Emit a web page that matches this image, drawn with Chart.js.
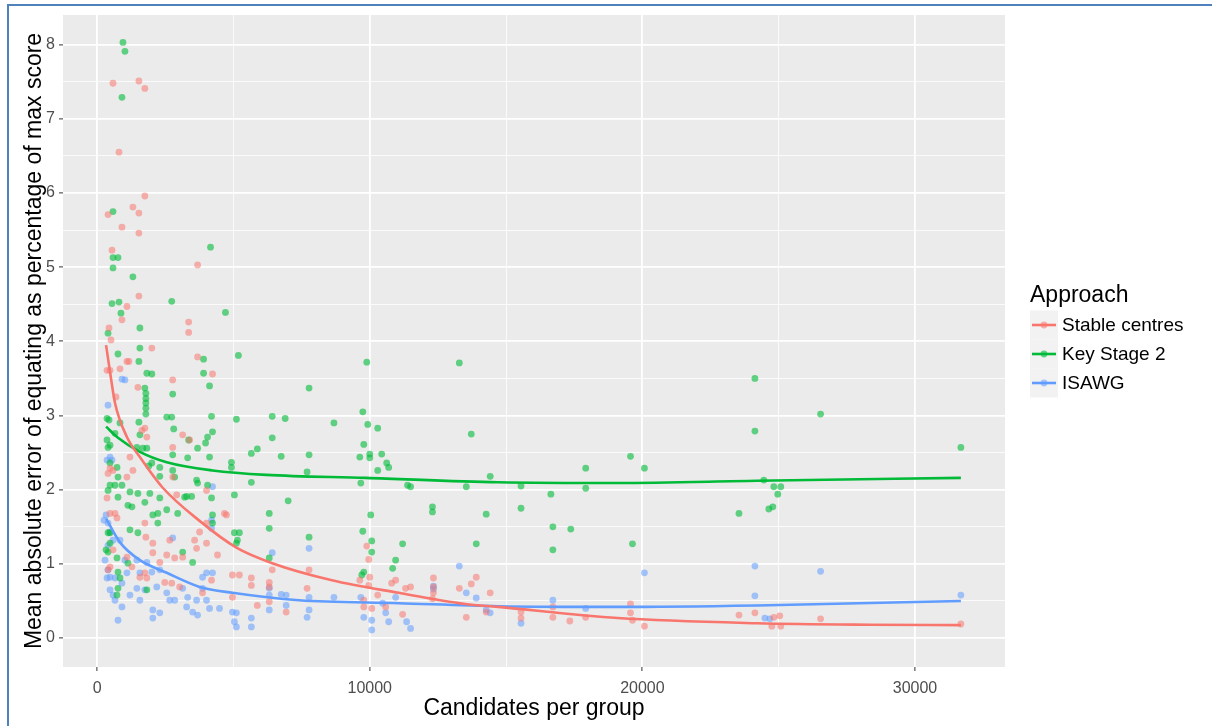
<!DOCTYPE html>
<html>
<head>
<meta charset="utf-8">
<title>Mean absolute error of equating</title>
<script src="https://cdn.jsdelivr.net/npm/chart.js@4.4.1/dist/chart.umd.min.js"></script>
<style>
    html, body { margin: 0; padding: 0; background: #ffffff; }
    #wrap { position: relative; width: 1212px; height: 726px; overflow: hidden; }
    #frame {
        position: absolute; left: 7px; top: 4px; right: -10px; bottom: -10px;
        border-top: 2px solid #4f81bd; border-left: 2px solid #4f81bd;
    }
    #box { position: absolute; left: 0; top: 0; width: 1212px; height: 726px; }
</style>
</head>
<body>
<div id="wrap">
    <div id="frame"></div>
    <div id="box"><canvas id="errorChart"></canvas></div>
</div>
<script>
// ---- data ----
const seriesNames = ["Stable centres", "Key Stage 2", "ISAWG"];
const legendTitle = "Approach";
const xTitle = "Candidates per group";
const yTitle = "Mean absolute error of equating as percentage of max score";

const stableX = [584, 1533, 1752, 803, 1752, 402, 1314, 1533, 913, 1533, 548, 3687, 1533, 1095, 913, 438, 511, 3358, 3358, 2008,
    3687, 1095, 1168, 4234, 475, 840, 2774, 1497, 694, 1752, 1825, 1643, 2774, 3139, 3395, 1205, 1314, 584, 1095, 2774,
    2920, 4015, 365, 475, 402, 365, 475, 657, 730, 584, 475, 402, 1095, 1278, 1570, 1752, 1825, 1752, 1789, 2044,
    2044, 2555, 2847, 3139, 2300, 2482, 2738, 3030, 3577, 3650, 3760, 4015, 4015, 4417, 4745, 4964, 5220, 5658, 4964, 3869,
    4198, 2665, 6424, 7775, 7702, 6935, 5877, 4672, 6315, 9892, 9965, 5658, 6315, 6315, 9636, 10001, 9965, 10293, 10950, 10804,
    11315, 11498, 9782, 9782, 10074, 10585, 11206, 12337, 12337, 12337, 12301, 13286, 13907, 13724, 13542, 14418, 14272, 16717, 16717, 17338,
    17922, 15549, 15549, 19564, 19564, 19637, 20075, 23543, 24127, 24820, 25039, 24747, 25076, 26536, 31682];
const stableY = [7.48, 7.51, 7.41, 6.55, 5.96, 5.71, 5.81, 5.73, 5.54, 5.46, 5.23, 5.03, 4.61, 4.47, 4.29, 4.18, 4.02, 4.26, 4.12, 3.91,
    3.79, 3.73, 3.73, 3.56, 3.61, 3.63, 3.48, 3.38, 3.25, 2.83, 2.71, 2.80, 2.57, 2.74, 2.67, 2.44, 2.26, 2.26, 2.17, 2.17,
    1.93, 1.99, 3.61, 2.29, 2.22, 1.89, 1.68, 1.68, 1.62, 1.19, 0.96, 0.92, 1.09, 0.96, 0.82, 0.88, 0.81, 1.55, 1.36, 1.28,
    1.15, 1.12, 1.08, 1.09, 1.02, 0.75, 0.74, 0.69, 1.32, 1.21, 1.43, 1.55, 1.28, 1.12, 1.66, 0.85, 0.85, 0.81, 0.55, 0.61,
    0.78, 1.32, 0.92, 0.92, 0.67, 0.35, 0.44, 1.68, 0.75, 1.24, 1.06, 0.71, 0.69, 0.49, 0.78, 0.82, 0.71, 0.58, 0.78, 0.74,
    0.67, 0.69, 0.51, 0.42, 0.40, 0.42, 0.32, 0.81, 0.69, 0.61, 0.53, 0.67, 0.82, 0.73, 0.28, 0.61, 0.35, 0.42, 0.28, 0.23,
    0.28, 0.35, 0.27, 0.46, 0.34, 0.24, 0.16, 0.31, 0.34, 0.28, 0.30, 0.16, 0.16, 0.26, 0.19];

const keyStageX = [949, 1022, 913, 584, 584, 767, 584, 1314, 548, 803, 876, 2738, 4161, 4709, 402, 1570, 1570, 767, 5183, 1533,
    1825, 2008, 3906, 3906, 4125, 1752, 1789, 1789, 1789, 1789, 1789, 2774, 2555, 2738, 4198, 5110, 1533, 840, 438, 2811,
    4234, 4052, 3979, 3358, 1570, 657, 475, 1460, 1679, 1825, 3687, 2774, 3322, 4125, 5658, 5877, 4928, 4928, 475, 730,
    767, 2008, 1898, 2300, 2300, 2774, 2847, 3650, 3687, 4052, 475, 657, 913, 1205, 1497, 1935, 3285, 3468, 5658, 5037,
    365, 365, 402, 329, 402, 402, 767, 1132, 1278, 1752, 2044, 2227, 2300, 2555, 2957, 3212, 4198, 4234, 4234, 5220,
    5037, 5110, 475, 475, 402, 730, 767, 840, 767, 730, 1205, 1132, 3139, 3504, 2227, 1825, 1497, 6424, 6899, 6424,
    6753, 7775, 7775, 8687, 7008, 6315, 6315, 7775, 5147, 9892, 13286, 9746, 9928, 10293, 13724, 9782, 9636, 10001, 10001, 10439,
    10622, 10695, 10293, 7702, 9673, 11388, 11498, 14418, 13542, 12301, 12301, 14272, 10038, 9746, 10074, 11206, 13907, 10074, 10950, 10841,
    9782, 9709, 6315, 24127, 24127, 19564, 20075, 17922, 15549, 17922, 16644, 15549, 16717, 17374, 16717, 19637, 23543, 26536, 31682, 24455,
    24820, 25076, 24966, 24638, 24784];
const keyStageY = [8.03, 7.91, 7.29, 5.75, 5.13, 5.13, 4.99, 4.87, 4.51, 4.53, 4.38, 4.54, 5.27, 4.39, 4.11, 4.18, 3.91, 3.83, 3.81, 3.73,
    3.57, 3.56, 3.76, 3.57, 3.40, 3.37, 3.30, 3.23, 3.17, 3.10, 3.02, 3.29, 2.98, 2.98, 2.99, 2.95, 2.91, 2.90, 2.94, 2.82,
    2.78, 2.71, 2.63, 2.67, 2.74, 2.76, 2.60, 2.57, 2.56, 2.56, 2.56, 2.47, 2.43, 2.44, 2.49, 2.55, 2.37, 2.30, 2.36, 2.30,
    2.17, 2.36, 2.32, 2.30, 2.18, 2.26, 2.17, 2.13, 2.09, 2.06, 2.06, 2.06, 2.06, 1.97, 1.95, 1.95, 1.91, 1.91, 2.10, 1.93,
    2.96, 2.67, 2.57, 1.19, 1.42, 1.99, 1.90, 1.79, 1.77, 1.83, 1.66, 1.68, 1.89, 1.73, 1.68, 1.90, 1.89, 1.66, 1.55, 1.42,
    1.42, 1.28, 1.42, 1.28, 1.16, 1.08, 0.89, 0.81, 0.67, 0.58, 1.46, 1.01, 1.16, 1.02, 1.55, 0.65, 1.42, 2.99, 2.96, 2.70,
    2.45, 3.37, 2.47, 2.90, 1.85, 1.68, 1.48, 1.36, 1.32, 3.72, 3.71, 3.05, 2.88, 2.83, 2.75, 2.61, 2.44, 2.48, 2.43, 2.48,
    2.36, 2.30, 2.26, 2.24, 2.09, 2.06, 2.04, 2.18, 2.04, 1.77, 1.70, 1.67, 1.66, 1.44, 1.31, 1.27, 1.27, 1.16, 1.05, 0.94,
    0.89, 0.85, 1.08, 3.50, 2.79, 2.45, 2.29, 2.29, 2.05, 2.02, 1.94, 1.75, 1.50, 1.47, 1.19, 1.27, 1.68, 3.02, 2.57, 2.13,
    2.04, 2.04, 1.94, 1.74, 1.77];

const isawgX = [913, 1022, 475, 548, 4234, 402, 365, 475, 584, 402, 475, 584, 402, 365, 657, 1095, 913, 913, 767, 1460,
    1570, 1460, 1825, 2008, 2300, 2190, 2555, 2665, 2044, 2044, 2300, 2774, 2847, 3139, 3322, 3285, 3650, 3504, 3687, 4015,
    4125, 4015, 4234, 3869, 4964, 5037, 5110, 5658, 5658, 3869, 4198, 4198, 6424, 7775, 7775, 7775, 6315, 6315, 6315, 6935,
    6935, 8687, 4490, 5110, 6753, 7702, 9673, 9782, 10074, 10074, 10476, 10585, 10695, 11352, 11498, 10950, 12337, 12337, 13286, 13542,
    13907, 14272, 14418, 20075, 24127, 24127, 16717, 17922, 15549, 26536, 31682, 24492, 24674, 292, 475, 657, 1022, 1205, 402, 840,
    1570, 1752, 256, 329];
const isawgY = [3.49, 3.48, 2.44, 2.40, 2.04, 3.14, 2.40, 0.82, 0.58, 1.55, 1.43, 1.32, 0.92, 0.81, 0.81, 0.88, 0.74, 0.42, 0.24, 1.05,
    0.88, 0.67, 1.02, 0.89, 0.92, 0.69, 0.61, 0.51, 0.38, 0.27, 0.34, 1.35, 0.51, 0.67, 0.55, 0.42, 0.51, 0.35, 0.31, 0.51,
    0.40, 0.88, 0.88, 0.82, 0.35, 0.22, 0.15, 0.27, 0.15, 0.67, 1.48, 1.59, 1.15, 1.21, 0.55, 0.38, 0.67, 0.58, 0.38, 0.58,
    0.44, 0.55, 0.40, 0.34, 0.59, 0.28, 0.55, 0.28, 0.24, 0.11, 0.47, 0.34, 0.22, 0.22, 0.13, 0.55, 0.70, 0.66, 0.97, 0.61,
    0.54, 0.38, 0.34, 0.88, 0.97, 0.57, 0.51, 0.40, 0.20, 0.90, 0.58, 0.27, 0.26, 1.05, 0.65, 0.51, 1.05, 0.58, 1.25, 1.32,
    0.51, 0.65, 1.59, 1.66];

// smoothed trend lines
const stableFitX = [330, 511, 657, 1095, 1570, 2400, 3760, 5110, 6424, 8614, 11060, 13505, 14710, 19090, 24200, 28324, 31682];
const stableFitY = [3.95, 3.50, 3.17, 2.71, 2.44, 2.03, 1.58, 1.22, 1.01, 0.78, 0.61, 0.46, 0.42, 0.27, 0.20, 0.18, 0.175];
const keyStageFitX = [330, 767, 1570, 2555, 4234, 6205, 9855, 14710, 19090, 24200, 31682];
const keyStageFitY = [2.85, 2.70, 2.51, 2.37, 2.26, 2.20, 2.16, 2.10, 2.09, 2.12, 2.16];
const isawgFitX = [330, 840, 1570, 2555, 3760, 4964, 7410, 11060, 14710, 19090, 24200, 31682];
const isawgFitY = [1.61, 1.29, 1.05, 0.88, 0.69, 0.61, 0.51, 0.47, 0.43, 0.42, 0.44, 0.50];

// axis breaks: labelled major lines and unlabelled minor lines
const xTicks = [0, 10000, 20000, 30000];
const xMinorTicks = [5000, 15000, 25000];
const yTicks = [0, 1, 2, 3, 4, 5, 6, 7, 8];
const yMinorTicks = [0.5, 1.5, 2.5, 3.5, 4.5, 5.5, 6.5, 7.5];

// ---- styling ----
const colours = ["#F8766D", "#00BA38", "#619CFF"];
const pointColours = ["rgba(248,118,109,0.55)", "rgba(0,186,56,0.6)", "rgba(97,156,255,0.55)"];
const FONT = '"Liberation Sans", Arial, Helvetica, sans-serif';
const POINT_R = 3.4;
const LINE_W = 2.6;

Chart.defaults.font.family = FONT;

function toPoints(xs, ys) {
    return xs.map((x, i) => ({ x: x, y: ys[i] }));
}

function isMajor(axis, v) {
    const list = axis === "x" ? xTicks : yTicks;
    return list.some(t => Math.abs(t - v) < 1e-6);
}

function breaks(major, minor) {
    return major.concat(minor).sort((a, b) => a - b).map(v => ({ value: v }));
}

const panelBg = {
    id: "panelBg",
    beforeDraw(chart) {
        const { ctx, chartArea: a } = chart;
        ctx.save();
        ctx.fillStyle = "#EBEBEB";
        ctx.fillRect(a.left, a.top, a.right - a.left, a.bottom - a.top);
        ctx.restore();
    }
};

const legendBox = {
    id: "legendBox",
    afterDraw(chart) {
        const { ctx, chartArea: a } = chart;
        const x0 = a.right + 25;
        const keyH = 29;
        const top = (a.top + a.bottom) / 2 - (26 + keyH * seriesNames.length) / 2;

        ctx.save();
        ctx.textAlign = "left";
        ctx.textBaseline = "middle";
        ctx.fillStyle = "#000";
        ctx.font = "23px " + FONT;
        ctx.fillText(legendTitle, x0, top + 11);

        seriesNames.forEach((name, i) => {
            const cy = top + 26 + keyH / 2 + i * keyH;
            ctx.fillStyle = "#F2F2F2";
            ctx.fillRect(x0, cy - keyH / 2, 28, keyH);

            ctx.strokeStyle = colours[i];
            ctx.lineWidth = LINE_W;
            ctx.beginPath();
            ctx.moveTo(x0 + 2, cy);
            ctx.lineTo(x0 + 26, cy);
            ctx.stroke();

            ctx.fillStyle = pointColours[i];
            ctx.beginPath();
            ctx.arc(x0 + 14, cy, POINT_R, 0, Math.PI * 2);
            ctx.fill();

            ctx.fillStyle = "#000";
            ctx.font = "19px " + FONT;
            ctx.fillText(name, x0 + 32, cy + 1);
        });
        ctx.restore();
    }
};

const scatterSets = [
    [stableX, stableY],
    [keyStageX, keyStageY],
    [isawgX, isawgY]
].map((s, i) => ({
    type: "scatter",
    label: seriesNames[i],
    data: toPoints(s[0], s[1]),
    backgroundColor: pointColours[i],
    borderWidth: 0,
    pointRadius: POINT_R,
    pointHoverRadius: POINT_R,
    order: 2
}));

const fitSets = [
    [stableFitX, stableFitY],
    [keyStageFitX, keyStageFitY],
    [isawgFitX, isawgFitY]
].map((s, i) => ({
    type: "line",
    label: seriesNames[i] + " trend",
    data: toPoints(s[0], s[1]),
    borderColor: colours[i],
    borderWidth: LINE_W,
    pointRadius: 0,
    fill: false,
    cubicInterpolationMode: "monotone",
    order: 1
}));

new Chart(document.getElementById("errorChart"), {
    type: "scatter",
    data: { datasets: scatterSets.concat(fitSets) },
    plugins: [panelBg, legendBox],
    options: {
        responsive: true,
        maintainAspectRatio: false,
        animation: false,
        events: [],
        layout: { padding: { left: 0, top: 15, right: 207, bottom: 0 } },
        plugins: {
            legend: { display: false },
            tooltip: { enabled: false }
        },
        scales: {
            x: {
                type: "linear",
                min: -1250,
                max: 33300,
                afterBuildTicks(axis) { axis.ticks = breaks(xTicks, xMinorTicks); },
                afterFit(scale) { scale.height = 59; },
                border: { display: false },
                grid: {
                    color: "#FFFFFF",
                    lineWidth: ctx => isMajor("x", ctx.tick.value) ? 1.8 : 0.8,
                    tickColor: ctx => isMajor("x", ctx.tick.value) ? "#333333" : "rgba(0,0,0,0)",
                    tickLength: 4,
                    tickWidth: 1
                },
                ticks: {
                    autoSkip: false,
                    maxRotation: 0,
                    padding: 8,
                    color: "#4D4D4D",
                    font: { size: 16 },
                    callback: v => isMajor("x", v) ? String(v) : ""
                },
                title: {
                    display: true,
                    text: xTitle,
                    color: "#000",
                    font: { size: 23, lineHeight: 1.2 },
                    padding: { top: 0, bottom: 4 }
                }
            },
            y: {
                type: "linear",
                min: -0.39,
                max: 8.40,
                afterBuildTicks(axis) { axis.ticks = breaks(yTicks, yMinorTicks); },
                afterFit(scale) { scale.width = 63; },
                border: { display: false },
                grid: {
                    color: "#FFFFFF",
                    lineWidth: ctx => isMajor("y", ctx.tick.value) ? 1.8 : 0.8,
                    tickColor: ctx => isMajor("y", ctx.tick.value) ? "#333333" : "rgba(0,0,0,0)",
                    tickLength: 4,
                    tickWidth: 1
                },
                ticks: {
                    autoSkip: false,
                    padding: 4,
                    color: "#4D4D4D",
                    font: { size: 16 },
                    callback: v => isMajor("y", v) ? String(Math.round(v)) : ""
                },
                title: {
                    display: true,
                    text: yTitle,
                    color: "#000",
                    font: { size: 23, lineHeight: 1.2 },
                    padding: { top: 21, bottom: 0 }
                }
            }
        }
    }
});
</script>
</body>
</html>
